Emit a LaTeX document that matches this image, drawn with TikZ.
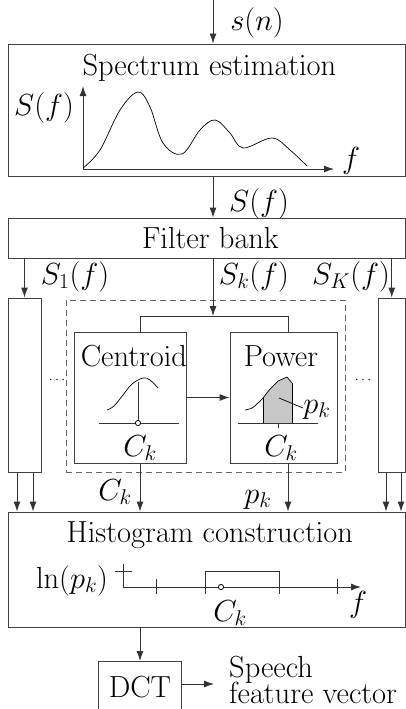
\RequirePackage{fix-cm}
\documentclass[tikz,border=0pt]{standalone}
\usepackage[OT1]{fontenc}
\usetikzlibrary{arrows.meta}
\begin{document}
\begin{tikzpicture}[x=1pt,y=-1pt,
  every node/.style={font=\fontencoding{OT1}\fontfamily{cmr}\fontsize{30.5}{36}\selectfont, inner sep=0pt},
  box/.style={draw=black!75, line width=0.9pt, rectangle, inner sep=0pt},
  dbox/.style={draw=black!60, line width=0.9pt, dashed, dash pattern=on 6pt off 4pt, rectangle},
  conn/.style={draw=black!80, line width=0.9pt},
  arr/.style={conn, -{Latex[length=10pt,width=7pt]}},
  curve/.style={draw=black, line width=0.7pt},
  lbl/.style={anchor=base}
]
\useasboundingbox (0,0) rectangle (406,709);

% boxes
\node[box, minimum width=397.5pt, minimum height=132pt] (spec) at (206.75,110) {};
\node[box, minimum width=397.5pt, minimum height=40pt] (fb) at (206.75,238) {};
\node[box, minimum width=33pt, minimum height=174pt] (lc) at (24.5,385) {};
\node[box, minimum width=27.5pt, minimum height=174pt] (rc) at (391.75,385) {};
\node[dbox, minimum width=279pt, minimum height=172pt] (dash) at (205.5,386) {};
\node[box, minimum width=112pt, minimum height=131pt] (cent) at (130,397.5) {};
\node[box, minimum width=107pt, minimum height=131pt] (pow) at (283.5,397.5) {};
\node[box, minimum width=397.5pt, minimum height=115pt] (hist) at (206.75,569.5) {};

% titles
\node[lbl] (tspec) at (209.5,75) {Spectrum estimation};
\node[lbl] (tfb) at (210.5,248) {Filter bank};
\node[lbl] (tcent) at (134,366) {Centroid};
\node[lbl] (tpow) at (281,366) {Power};
\node[lbl] (thist) at (210,542) {Histogram construction};

% input
\coordinate (in) at (213,0);
\draw[arr] (in) -- (in |- spec.north);
\node[lbl] (sn) at (257,31) {$s(n)$};

% spectrum plot
\coordinate (sorig) at (83,169);
\coordinate (syax) at (83,86);
\coordinate (sxax) at (334,169);
\draw[arr] (sorig) -- (syax);
\draw[arr] (sorig) -- (sxax);
\node[lbl] (sfy) at (44,115) {$S(f)$};
\node[lbl] (sfx) at (351,168) {$f$};
\draw[curve] plot[smooth, tension=0.6] coordinates {(83,168) (100,150) (120,110) (138,92) (150,107) (163,143) (182,154) (200,130) (215,120) (230,133) (243,148) (272,138) (290,150) (307,166)};

% S(f) to filter bank
\draw[arr] (in |- spec.south) -- (in |- fb.north);
\node[lbl] (sf) at (259,211) {$S(f)$};

% filter bank outputs
\draw[arr] (lc.north |- fb.south) -- (lc.north);
\draw[arr] (rc.north |- fb.south) -- (rc.north);
\node[lbl] (s1) at (75,284) {$S_1(f)$};
\node[lbl] (sk) at (254,284) {$S_k(f)$};
\node[lbl] (sK) at (351,284) {$S_K(f)$};
\coordinate (split) at (213,316);
\coordinate (splitL) at (140,316);
\coordinate (splitR) at (288,316);
\draw[arr] (in |- fb.south) -- (split);
\draw[conn] (splitL |- cent.north) -- (splitL) -- (splitR) -- (splitR |- pow.north);

% dots
\node (dl) at (57,380) {\fontsize{14}{16}\selectfont$\cdots$};
\node (dr) at (363,380) {\fontsize{14}{16}\selectfont$\cdots$};

% centroid drawing
\draw[curve] plot[smooth, tension=0.6] coordinates {(107,410) (114,406) (123,395) (132,384) (143,378) (150,380) (158,388)};
\draw[conn] (99,423) -- (179,423);
\coordinate (cdot) at (138,423);
\draw[conn] (138,382) -- (cdot);
\draw[black, line width=0.8pt, fill=white] (cdot) circle (2.6pt);
\node[lbl] (ck1) at (140,456) {$C_k$};

% centroid to power
\draw[arr] (cent.east) -- (pow.west);

% power drawing
\fill[black!22] (263,423) -- (263,398) -- (270,389) -- (278,381) -- (287,377) -- (292,383) -- (292,423) -- cycle;
\draw[curve] plot[smooth, tension=0.6] coordinates {(245,410) (252,408) (258,403) (263,398)};
\draw[curve] (263,398) -- (270,389) -- (278,381) -- (287,377) -- (292,383);
\draw[curve] (263,398) -- (263,423);
\draw[curve] (292,383) -- (292,423);
\draw[conn] (238,423) -- (318,423);
\draw[conn] (278,423) -- (278,428);
\node[lbl] (pk1) at (317,413) {$p_k$};
\draw[curve] (279,398) -- (303,408);
\node[lbl] (ck2) at (281,456) {$C_k$};

% outputs to histogram
\draw[arr] (splitL |- cent.south) -- (splitL |- hist.north);
\draw[arr] (splitR |- pow.south) -- (splitR |- hist.north);
\node[lbl] (ck3) at (115,500) {$C_k$};
\node[lbl] (pk2) at (258,503) {$p_k$};
\coordinate (l1) at (17,0);
\coordinate (l2) at (33,0);
\coordinate (r1) at (386,0);
\coordinate (r2) at (401,0);
\foreach \c in {l1,l2} \draw[arr] (\c |- lc.south) -- (\c |- hist.north);
\foreach \c in {r1,r2} \draw[arr] (\c |- rc.south) -- (\c |- hist.north);

% histogram drawing
\node[lbl] (lnp) at (72,588) {$\ln(p_k)$};
\coordinate (horig) at (123,587);
\coordinate (hxax) at (361,587);
\draw[conn] (115,571) -- (132,571);
\draw[conn] (123,564) -- (horig);
\draw[arr] (horig) -- (hxax);
\draw[conn] (156,579) -- (156,594);
\draw[conn] (337,579) -- (337,594);
\draw[conn] (205,594) -- (205,571) -- (279,571) -- (279,594);
\draw[black, line width=0.8pt, fill=white] (221,587) circle (2.6pt);
\node[lbl] (ck4) at (230,621) {$C_k$};
\node[lbl] (fh) at (358,612) {$f$};

% DCT
\coordinate (dtop) at (140,661);
\draw[arr] (dtop |- hist.south) -- (dtop);
\draw[box] (98,712) -- (98,661) -- (181,661) -- (181,712);
\node[lbl] (dct) at (140,697) {DCT};
\coordinate (dright) at (181,684);
\coordinate (dout) at (214,684);
\draw[arr] (dright) -- (dout);
\node[anchor=north west, align=left] (sp) at (229,656) {Speech\\[-10pt]feature vector};
\end{tikzpicture}
\end{document}
